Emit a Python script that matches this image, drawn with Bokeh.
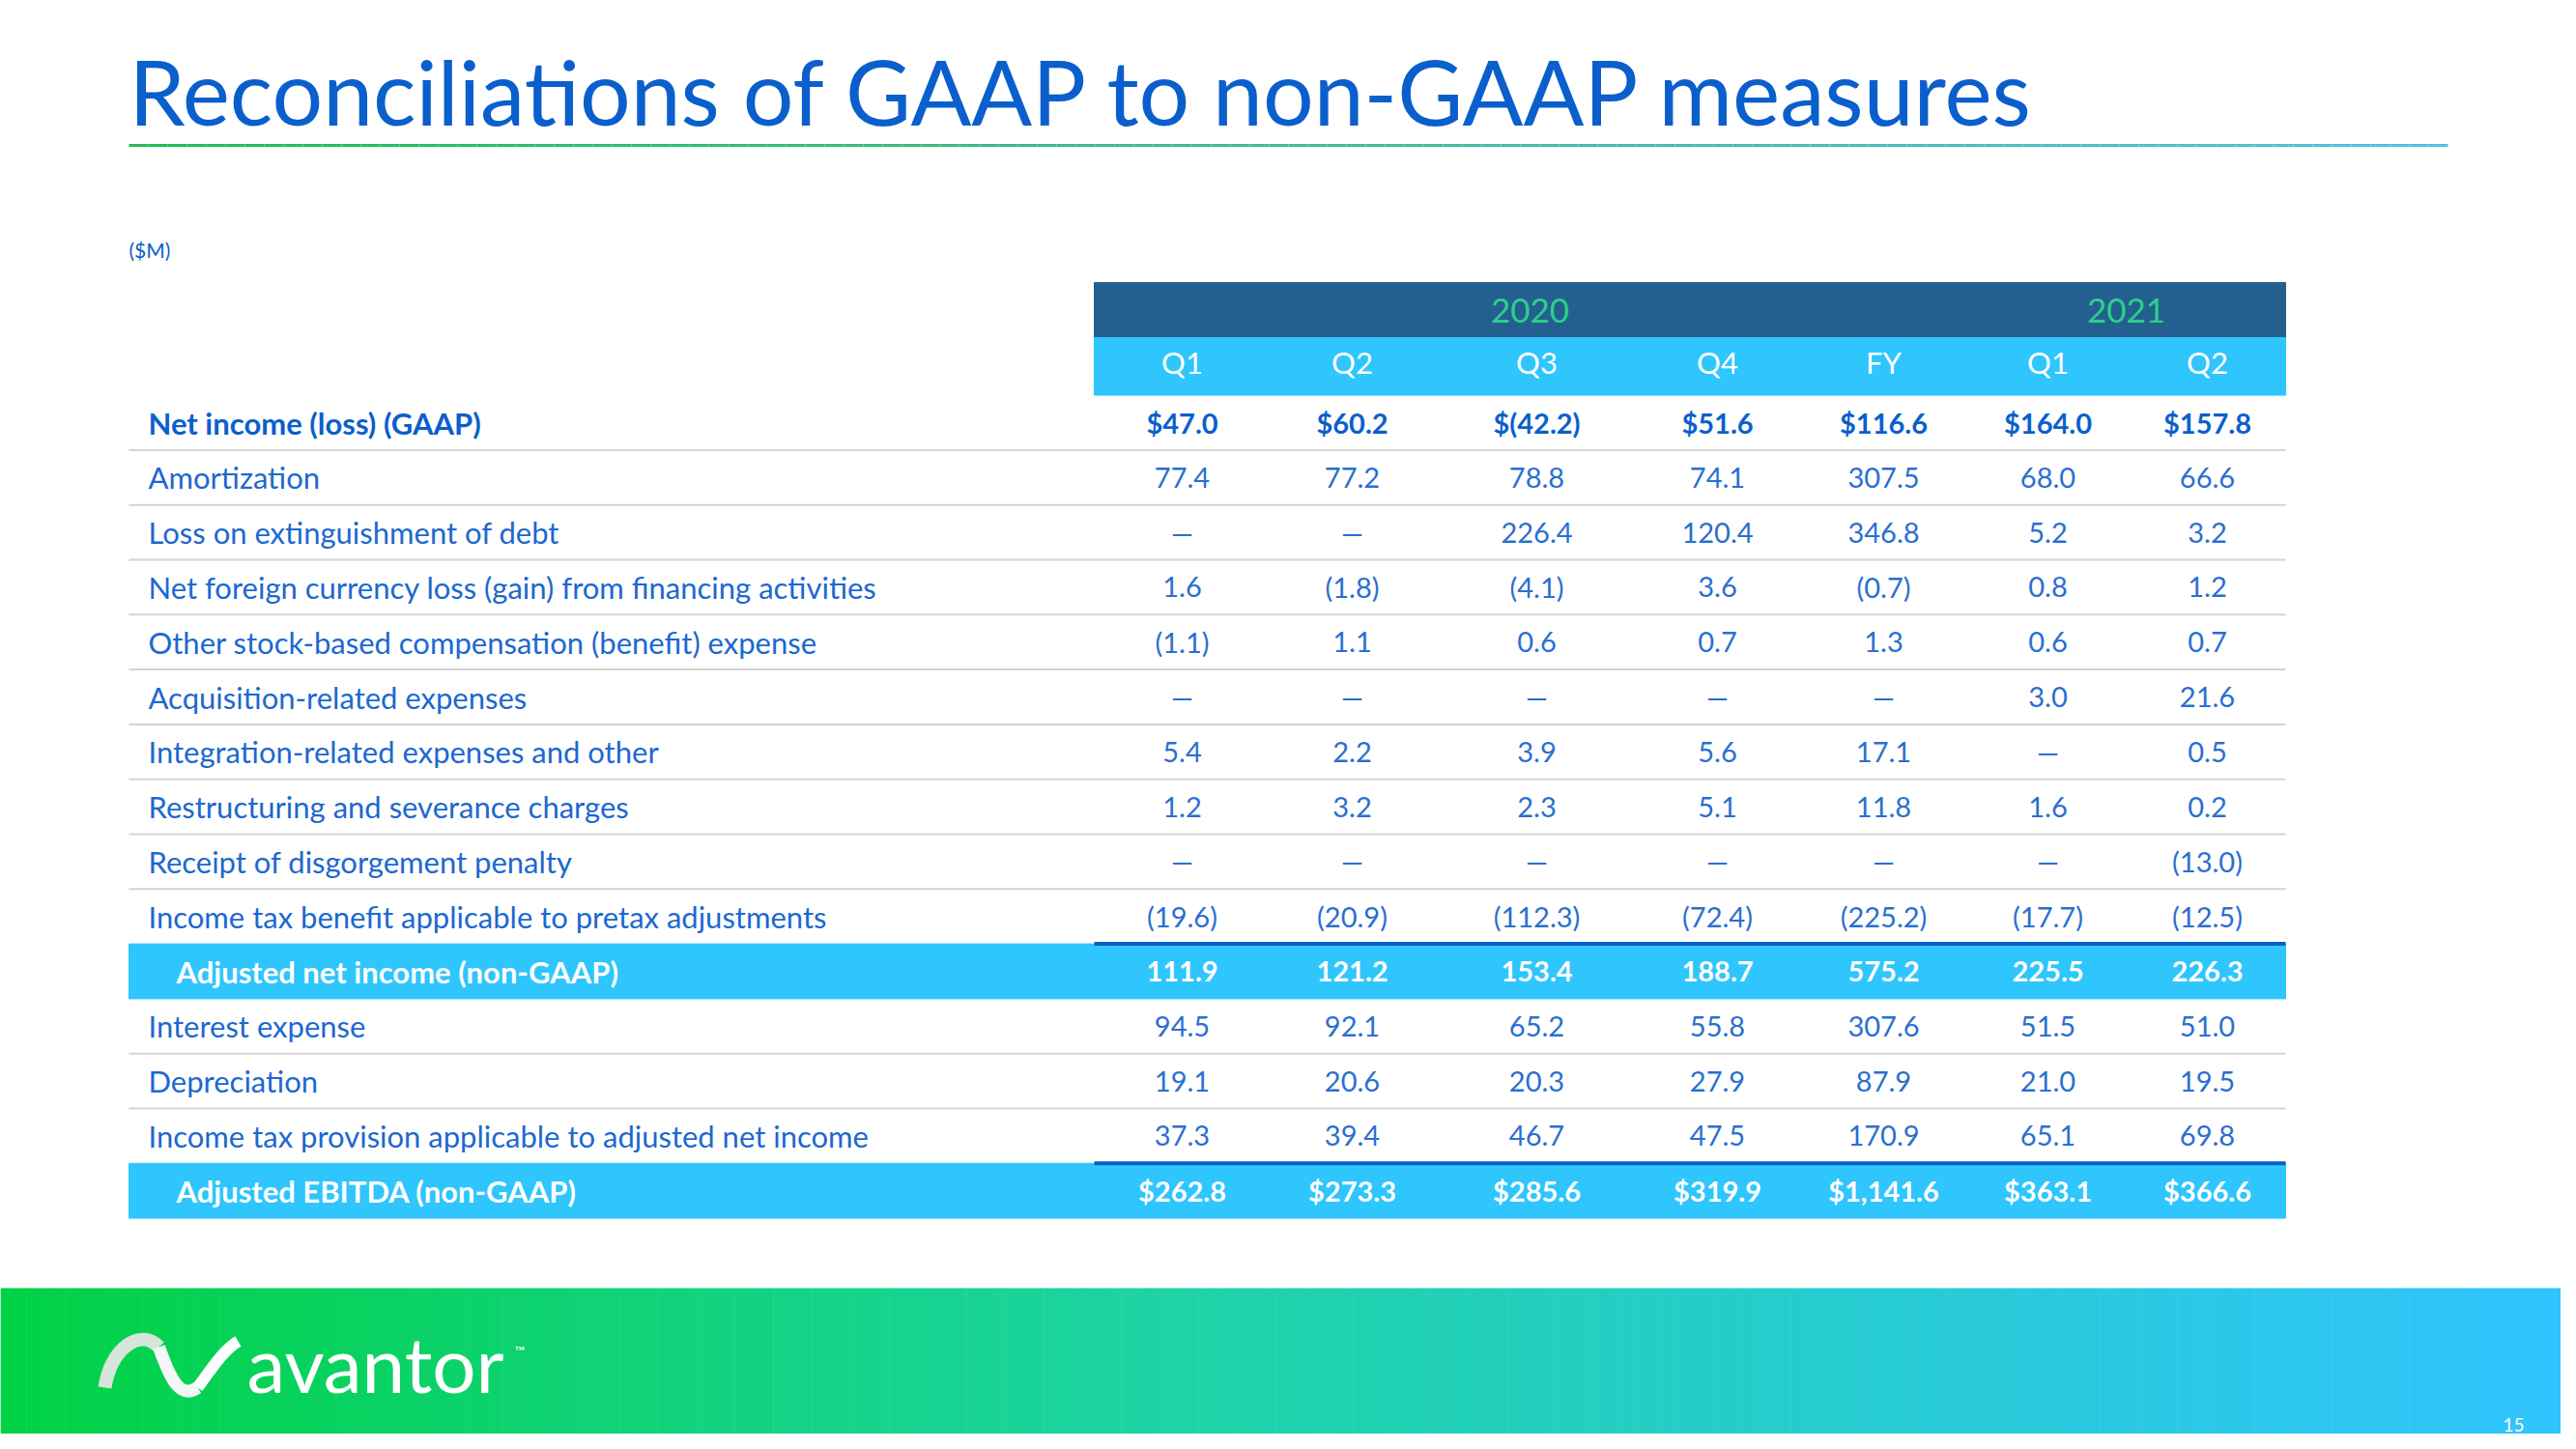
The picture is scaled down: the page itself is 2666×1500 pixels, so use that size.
from bokeh.plotting import figure
from bokeh.models import Range1d
from bokeh.embed import file_html
from bokeh.resources import INLINE
from bokeh.core.properties import value
import numpy as np

# ---------------- data ----------------
title_text = "Reconciliations of GAAP to non-GAAP measures"
units_text = "($M)"
years = ["2020", "2021"]
periods = ["Q1", "Q2", "Q3", "Q4", "FY", "Q1", "Q2"]
labels = [
    "Net income (loss) (GAAP)",
    "Amortization",
    "Loss on extinguishment of debt",
    "Net foreign currency loss (gain) from financing activities",
    "Other stock-based compensation (benefit) expense",
    "Acquisition-related expenses",
    "Integration-related expenses and other",
    "Restructuring and severance charges",
    "Receipt of disgorgement penalty",
    "Income tax benefit applicable to pretax adjustments",
    "Adjusted net income (non-GAAP)",
    "Interest expense",
    "Depreciation",
    "Income tax provision applicable to adjusted net income",
    "Adjusted EBITDA (non-GAAP)",
]
q1_2020 = ["$47.0", "77.4", "—", "1.6", "(1.1)", "—", "5.4", "1.2", "—", "(19.6)", "111.9", "94.5", "19.1", "37.3", "$262.8"]
q2_2020 = ["$60.2", "77.2", "—", "(1.8)", "1.1", "—", "2.2", "3.2", "—", "(20.9)", "121.2", "92.1", "20.6", "39.4", "$273.3"]
q3_2020 = ["$(42.2)", "78.8", "226.4", "(4.1)", "0.6", "—", "3.9", "2.3", "—", "(112.3)", "153.4", "65.2", "20.3", "46.7", "$285.6"]
q4_2020 = ["$51.6", "74.1", "120.4", "3.6", "0.7", "—", "5.6", "5.1", "—", "(72.4)", "188.7", "55.8", "27.9", "47.5", "$319.9"]
fy_2020 = ["$116.6", "307.5", "346.8", "(0.7)", "1.3", "—", "17.1", "11.8", "—", "(225.2)", "575.2", "307.6", "87.9", "170.9", "$1,141.6"]
q1_2021 = ["$164.0", "68.0", "5.2", "0.8", "0.6", "3.0", "—", "1.6", "—", "(17.7)", "225.5", "51.5", "21.0", "65.1", "$363.1"]
q2_2021 = ["$157.8", "66.6", "3.2", "1.2", "0.7", "21.6", "0.5", "0.2", "(13.0)", "(12.5)", "226.3", "51.0", "19.5", "69.8", "$366.6"]
columns = [q1_2020, q2_2020, q3_2020, q4_2020, fy_2020, q1_2021, q2_2021]
bold_rows = [0]
band_rows = [10, 14]
footer_brand = "avantor"
page_number = "15"

# ---------------- layout (styles / positions) ----------------
FONT = value("Lato")
W, H = 2666, 1500
PW, PH = W - 16, H - 16
col_x = [1223, 1399, 1590, 1777, 1949, 2119, 2284]
year_x = [1583, 2200]
table_left, num_left, table_right = 133, 1132, 2365
row_top0 = 408.6
row_h = 56.8
label_x = 153
indent_x = 182
BLUE = "#0b5fcc"
LBL_BLUE = "#1c68d0"
NUM_BLUE = "#2a6fd0"
CYAN = "#2fc5fd"
DARK = "#24608f"

p = figure(width=PW, height=PH, x_range=Range1d(0, PW), y_range=Range1d(PH, 0),
           output_backend="svg", toolbar_location=None, min_border=0,
           background_fill_color="white", border_fill_color="white")
p.axis.visible = False
p.grid.visible = False
p.outline_line_color = None

# Title
p.text(x=[133], y=[93], text=[title_text], text_font=FONT, text_font_size="93px",
       text_color=BLUE, text_baseline="middle", text_align="left")
# Title underline gradient
n = 120
xs = np.linspace(133, 2533, n + 1)
c0 = np.array([34, 190, 80]); c1 = np.array([80, 195, 222])
tcols = ["#%02x%02x%02x" % tuple((c0 + (c1 - c0) * t).astype(int)) for t in np.linspace(0, 1, n)]
p.segment(x0=xs[:-1], y0=[150] * n, x1=xs[1:], y1=[150] * n, line_color=tcols, line_width=3)

# Units
p.text(x=[133], y=[258], text=[units_text], text_font=FONT, text_font_size="21px",
       text_color=BLUE, text_baseline="middle")

# Header bands
p.quad(left=[num_left], right=[table_right], top=[292], bottom=[349], color=DARK)
p.quad(left=[num_left], right=[table_right], top=[349], bottom=[row_top0], color=CYAN)
p.text(x=year_x, y=[321, 321], text=years, text_font=FONT, text_font_size="35px",
       text_color="#2bd08a", text_align="center", text_baseline="middle")
p.text(x=col_x, y=[374] * 7, text=periods, text_font=FONT, text_font_size="31px",
       text_color="white", text_align="center", text_baseline="middle")

nrows = len(labels)
row_c = [row_top0 + row_h * (i + 0.5) for i in range(nrows)]

# Bands
for r in band_rows:
    p.quad(left=[table_left], right=[table_right], top=[row_top0 + row_h * r],
           bottom=[row_top0 + row_h * (r + 1)], color=CYAN)
    p.segment(x0=[num_left], y0=[row_top0 + row_h * r], x1=[table_right],
              y1=[row_top0 + row_h * r], line_color="#0a5ec6", line_width=4)

# Separators (gray) between ordinary rows
sep_y = []
for i in range(nrows - 1):
    if i in band_rows or (i + 1) in band_rows:
        continue
    sep_y.append(row_top0 + row_h * (i + 1))
p.segment(x0=[table_left] * len(sep_y), y0=sep_y, x1=[table_right] * len(sep_y), y1=sep_y,
          line_color="#d4d4d4", line_width=2)

# Row labels and numbers
for i, lab in enumerate(labels):
    if i in band_rows:
        col, style, lx, ncol = "white", "bold", indent_x, "white"
    elif i in bold_rows:
        col, style, lx, ncol = BLUE, "bold", label_x, BLUE
    else:
        col, style, lx, ncol = LBL_BLUE, "normal", label_x, NUM_BLUE
    p.text(x=[lx], y=[row_c[i]], text=[lab], text_font=FONT, text_font_size="31px",
           text_color=col, text_font_style=style, text_baseline="middle", text_align="left")
    p.text(x=col_x, y=[row_c[i]] * 7, text=[c[i] for c in columns], text_font=FONT,
           text_font_size="29px", text_color=ncol, text_font_style=style,
           text_baseline="middle", text_align="center")

# Footer gradient
m = 200
fx = np.linspace(0, W, m + 1)
stops_t = [0.0, 0.45, 1.0]
stops_c = [np.array([0, 210, 68]), np.array([30, 212, 165]), np.array([48, 196, 255])]
fcols = []
for t in np.linspace(0, 1, m):
    if t <= stops_t[1]:
        u = t / stops_t[1]; c = stops_c[0] + (stops_c[1] - stops_c[0]) * u
    else:
        u = (t - stops_t[1]) / (1 - stops_t[1]); c = stops_c[1] + (stops_c[2] - stops_c[1]) * u
    fcols.append("#%02x%02x%02x" % tuple(c.astype(int)))
p.quad(left=fx[:-1], right=fx[1:] + 0.5, top=[1333] * m, bottom=[1500] * m, color=fcols, line_color=None)

# Logo mark (ribbon)
p.bezier(x0=[108], y0=[1436], cx0=[114], cy0=[1394], cx1=[146], cy1=[1374], x1=[164], y1=[1394],
         line_color="#d6e4da", line_width=14)
p.bezier(x0=[164], y0=[1394], cx0=[176], cy0=[1428], cx1=[186], cy1=[1448], x1=[204], y1=[1436],
         line_color="#f4f7f5", line_width=13)
p.bezier(x0=[204], y0=[1436], cx0=[220], cy0=[1414], cx1=[232], cy1=[1396], x1=[246], y1=[1388],
         line_color="white", line_width=12)
p.text(x=[255], y=[1410], text=[footer_brand], text_font=FONT, text_font_size="80px",
       text_color="white", text_baseline="middle", text_align="left")
p.text(x=[532], y=[1398], text=["™"], text_font=FONT, text_font_size="14px",
       text_color="white", text_baseline="middle", text_align="left")
p.text(x=[2601], y=[1474], text=[page_number], text_font=FONT, text_font_size="19px",
       text_color="white", text_baseline="middle", text_align="center")

open("out.html", "w").write(file_html(p, INLINE))
